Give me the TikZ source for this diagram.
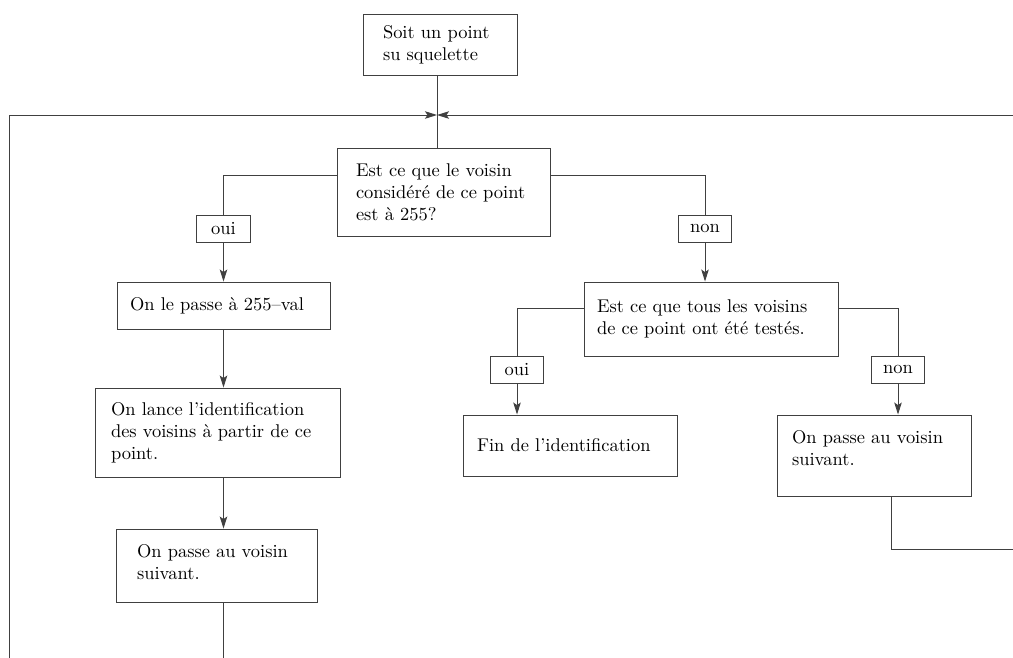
\documentclass[tikz,border=0pt]{standalone}
\usetikzlibrary{arrows.meta, positioning}

\begin{document}
\begin{tikzpicture}[x=0.02cm, y=-0.02cm,
  font=\fontsize{10.5}{12.5}\selectfont,
  >={Stealth[length=2.4mm, width=1.5mm, inset=0.5mm]},
  bloc/.style = {draw=black!75, line width=0.55pt, inner sep=0pt, align=left},
  rep/.style  = {draw=black!75, line width=0.55pt, inner sep=0pt,
                 minimum width=1.07cm, minimum height=0.54cm},
  lien/.style = {draw=black!75, line width=0.55pt}
]
  \useasboundingbox (0,0) rectangle (1013,657);
  \clip (0,0) rectangle (1013,657);

  %% boites
  \node[bloc, minimum width=3.08cm, minimum height=1.22cm, text width=2.28cm]
    (depart) at (440,44.5) {Soit un point\\su squelette};
  \node[bloc, minimum width=4.26cm, minimum height=1.76cm, text width=3.5cm]
    (test1) at (443.5,192) {Est ce que le voisin\\considéré de ce point\\est à 255?};
  \node[rep] (oui1) at (223.5,228.5) {oui};
  \node[rep] (non1) at (705,228.5) {non};
  \node[bloc, minimum width=4.26cm, minimum height=0.94cm, text width=3.74cm]
    (passe) at (223.5,305.5) {On le passe à 255--val};
  \node[bloc, minimum width=4.92cm, minimum height=1.78cm, text width=4.28cm]
    (lance) at (218,432.5) {On lance l'identification\\des voisins à partir de ce\\point.};
  \node[bloc, minimum width=4.02cm, minimum height=1.46cm, text width=3.18cm]
    (suivA) at (216.5,565.5) {On passe au voisin\\suivant.\\[-8.5pt]\mbox{}};
  \node[bloc, minimum width=5.08cm, minimum height=1.48cm, text width=4.56cm]
    (test2) at (711,319) {Est ce que tous les voisins\\de ce point ont été testés.};
  \node[rep] (oui2) at (517,369.5) {oui};
  \node[rep] (non2) at (898,369.5) {non};
  \node[bloc, minimum width=4.28cm, minimum height=1.22cm, text width=3.72cm]
    (fin) at (570,445.5) {Fin de l'identification};
  \node[bloc, minimum width=3.88cm, minimum height=1.62cm, text width=3.28cm]
    (suivB) at (874,455.5) {On passe au voisin\\suivant.\\[-3.5pt]\mbox{}};

  %% points de retour
  \coordinate (jonction) at (437,115);
  \coordinate (retourG) at (9,690);
  \coordinate (retourD) at (1040,549);

  %% depart -> test1
  \draw[lien] (depart.south -| jonction) -- (test1.north -| jonction);

  %% branche oui
  \draw[lien] ([yshift=.34cm]test1.west) -| (oui1);
  \draw[lien, ->] (oui1) -- (oui1 |- passe.north);
  \draw[lien, ->] (passe.south) -- (passe.south |- lance.north);
  \draw[lien, ->] (lance.south -| passe) -- (suivA.north -| passe);
  \draw[lien, ->] (suivA.south -| passe) |- (retourG) |- (jonction);

  %% branche non
  \draw[lien] ([yshift=.34cm]test1.east) -| (non1);
  \draw[lien, ->] (non1) -- (non1 |- test2.north);
  \draw[lien] ([yshift=.22cm]test2.west) -| (oui2);
  \draw[lien, ->] (oui2) -- (oui2 |- fin.north);
  \draw[lien] ([yshift=.22cm]test2.east) -| (non2);
  \draw[lien, ->] (non2) -- (non2 |- suivB.north);
  \draw[lien, ->] ([xshift=.34cm]suivB.south) |- (retourD) |- (jonction);
\end{tikzpicture}
\end{document}
